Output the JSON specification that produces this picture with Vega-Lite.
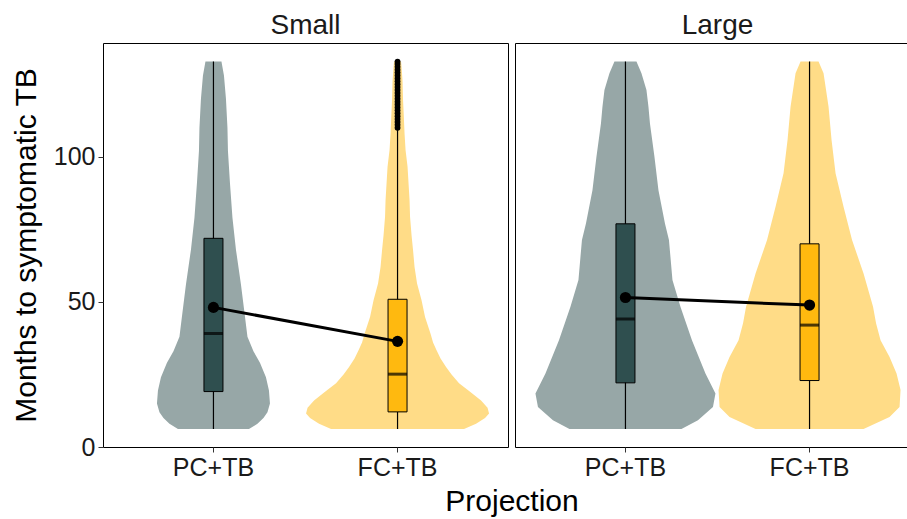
{
  "$schema": "https://vega.github.io/schema/vega-lite/v6.json",
  "padding": {"left": 10, "top": 11, "right": 0, "bottom": 0},
  "bounds": "flush",
  "data": {"values": [
    {"k":"v","panel":"Small","g":"PC+TB","m":6.2,"d":71},
    {"k":"v","panel":"Small","g":"PC+TB","m":8,"d":88},
    {"k":"v","panel":"Small","g":"PC+TB","m":10,"d":100},
    {"k":"v","panel":"Small","g":"PC+TB","m":12,"d":108},
    {"k":"v","panel":"Small","g":"PC+TB","m":15,"d":113},
    {"k":"v","panel":"Small","g":"PC+TB","m":19.5,"d":111},
    {"k":"v","panel":"Small","g":"PC+TB","m":24,"d":105},
    {"k":"v","panel":"Small","g":"PC+TB","m":29,"d":93},
    {"k":"v","panel":"Small","g":"PC+TB","m":33,"d":80},
    {"k":"v","panel":"Small","g":"PC+TB","m":38,"d":68},
    {"k":"v","panel":"Small","g":"PC+TB","m":45,"d":63},
    {"k":"v","panel":"Small","g":"PC+TB","m":56,"d":55},
    {"k":"v","panel":"Small","g":"PC+TB","m":68,"d":45},
    {"k":"v","panel":"Small","g":"PC+TB","m":79,"d":38},
    {"k":"v","panel":"Small","g":"PC+TB","m":91,"d":33},
    {"k":"v","panel":"Small","g":"PC+TB","m":102,"d":29},
    {"k":"v","panel":"Small","g":"PC+TB","m":110,"d":28},
    {"k":"v","panel":"Small","g":"PC+TB","m":120,"d":25},
    {"k":"v","panel":"Small","g":"PC+TB","m":128,"d":21},
    {"k":"v","panel":"Small","g":"PC+TB","m":132.8,"d":16},

    {"k":"v","panel":"Small","g":"FC+TB","m":6.2,"d":133},
    {"k":"v","panel":"Small","g":"FC+TB","m":8,"d":157},
    {"k":"v","panel":"Small","g":"FC+TB","m":10,"d":175},
    {"k":"v","panel":"Small","g":"FC+TB","m":11.5,"d":183},
    {"k":"v","panel":"Small","g":"FC+TB","m":13.5,"d":180},
    {"k":"v","panel":"Small","g":"FC+TB","m":16,"d":167},
    {"k":"v","panel":"Small","g":"FC+TB","m":19,"d":145},
    {"k":"v","panel":"Small","g":"FC+TB","m":22,"d":123},
    {"k":"v","panel":"Small","g":"FC+TB","m":25,"d":108},
    {"k":"v","panel":"Small","g":"FC+TB","m":27.6,"d":97},
    {"k":"v","panel":"Small","g":"FC+TB","m":30.5,"d":86},
    {"k":"v","panel":"Small","g":"FC+TB","m":33.3,"d":78},
    {"k":"v","panel":"Small","g":"FC+TB","m":36,"d":71},
    {"k":"v","panel":"Small","g":"FC+TB","m":39,"d":66},
    {"k":"v","panel":"Small","g":"FC+TB","m":44.8,"d":55},
    {"k":"v","panel":"Small","g":"FC+TB","m":50.6,"d":48},
    {"k":"v","panel":"Small","g":"FC+TB","m":56.3,"d":39},
    {"k":"v","panel":"Small","g":"FC+TB","m":62,"d":34},
    {"k":"v","panel":"Small","g":"FC+TB","m":67.8,"d":31},
    {"k":"v","panel":"Small","g":"FC+TB","m":73,"d":28},
    {"k":"v","panel":"Small","g":"FC+TB","m":79.3,"d":25},
    {"k":"v","panel":"Small","g":"FC+TB","m":85,"d":24},
    {"k":"v","panel":"Small","g":"FC+TB","m":90.8,"d":22},
    {"k":"v","panel":"Small","g":"FC+TB","m":96.6,"d":20},
    {"k":"v","panel":"Small","g":"FC+TB","m":102.3,"d":16},
    {"k":"v","panel":"Small","g":"FC+TB","m":108,"d":14},
    {"k":"v","panel":"Small","g":"FC+TB","m":114,"d":12.5},
    {"k":"v","panel":"Small","g":"FC+TB","m":119.6,"d":11},
    {"k":"v","panel":"Small","g":"FC+TB","m":126,"d":10},
    {"k":"v","panel":"Small","g":"FC+TB","m":131,"d":8},
    {"k":"v","panel":"Small","g":"FC+TB","m":132.8,"d":7},

    {"k":"v","panel":"Large","g":"PC+TB","m":6.2,"d":112},
    {"k":"v","panel":"Large","g":"PC+TB","m":9.2,"d":145},
    {"k":"v","panel":"Large","g":"PC+TB","m":13.8,"d":175},
    {"k":"v","panel":"Large","g":"PC+TB","m":18.4,"d":180},
    {"k":"v","panel":"Large","g":"PC+TB","m":25.3,"d":160},
    {"k":"v","panel":"Large","g":"PC+TB","m":36.8,"d":133},
    {"k":"v","panel":"Large","g":"PC+TB","m":48.3,"d":110},
    {"k":"v","panel":"Large","g":"PC+TB","m":57.5,"d":94},
    {"k":"v","panel":"Large","g":"PC+TB","m":65.5,"d":90},
    {"k":"v","panel":"Large","g":"PC+TB","m":71.3,"d":87},
    {"k":"v","panel":"Large","g":"PC+TB","m":77,"d":79},
    {"k":"v","panel":"Large","g":"PC+TB","m":88.5,"d":66},
    {"k":"v","panel":"Large","g":"PC+TB","m":100,"d":58},
    {"k":"v","panel":"Large","g":"PC+TB","m":111.5,"d":49},
    {"k":"v","panel":"Large","g":"PC+TB","m":117.2,"d":46},
    {"k":"v","panel":"Large","g":"PC+TB","m":123,"d":42},
    {"k":"v","panel":"Large","g":"PC+TB","m":128.8,"d":32},
    {"k":"v","panel":"Large","g":"PC+TB","m":132.8,"d":22},

    {"k":"v","panel":"Large","g":"FC+TB","m":6.2,"d":108},
    {"k":"v","panel":"Large","g":"FC+TB","m":10.3,"d":160},
    {"k":"v","panel":"Large","g":"FC+TB","m":13.8,"d":180},
    {"k":"v","panel":"Large","g":"FC+TB","m":19.6,"d":182},
    {"k":"v","panel":"Large","g":"FC+TB","m":25.3,"d":174},
    {"k":"v","panel":"Large","g":"FC+TB","m":31,"d":160},
    {"k":"v","panel":"Large","g":"FC+TB","m":36.8,"d":142},
    {"k":"v","panel":"Large","g":"FC+TB","m":42.6,"d":133},
    {"k":"v","panel":"Large","g":"FC+TB","m":48.3,"d":127},
    {"k":"v","panel":"Large","g":"FC+TB","m":59.8,"d":108},
    {"k":"v","panel":"Large","g":"FC+TB","m":71.3,"d":85},
    {"k":"v","panel":"Large","g":"FC+TB","m":82.8,"d":68},
    {"k":"v","panel":"Large","g":"FC+TB","m":94.3,"d":52},
    {"k":"v","panel":"Large","g":"FC+TB","m":105.8,"d":44},
    {"k":"v","panel":"Large","g":"FC+TB","m":117.2,"d":38},
    {"k":"v","panel":"Large","g":"FC+TB","m":128.8,"d":28},
    {"k":"v","panel":"Large","g":"FC+TB","m":132.8,"d":18},

    {"k":"b","panel":"Small","g":"PC+TB","min":6.2,"q1":19.1,"med":39.1,"q3":71.9,"max":132.8,"mean":48.1},
    {"k":"b","panel":"Small","g":"FC+TB","min":6.2,"q1":12.1,"med":25.1,"q3":50.9,"max":109.5,"mean":36.4},
    {"k":"b","panel":"Large","g":"PC+TB","min":6.2,"q1":22.1,"med":44.1,"q3":76.9,"max":132.8,"mean":51.5},
    {"k":"b","panel":"Large","g":"FC+TB","min":6.2,"q1":22.9,"med":42,"q3":70,"max":132.8,"mean":48.9},

    {"k":"o","panel":"Small","g":"FC+TB","m":110},
    {"k":"o","panel":"Small","g":"FC+TB","m":111},
    {"k":"o","panel":"Small","g":"FC+TB","m":112},
    {"k":"o","panel":"Small","g":"FC+TB","m":113},
    {"k":"o","panel":"Small","g":"FC+TB","m":114},
    {"k":"o","panel":"Small","g":"FC+TB","m":115},
    {"k":"o","panel":"Small","g":"FC+TB","m":116},
    {"k":"o","panel":"Small","g":"FC+TB","m":117},
    {"k":"o","panel":"Small","g":"FC+TB","m":118},
    {"k":"o","panel":"Small","g":"FC+TB","m":119},
    {"k":"o","panel":"Small","g":"FC+TB","m":120},
    {"k":"o","panel":"Small","g":"FC+TB","m":121},
    {"k":"o","panel":"Small","g":"FC+TB","m":122},
    {"k":"o","panel":"Small","g":"FC+TB","m":123},
    {"k":"o","panel":"Small","g":"FC+TB","m":124},
    {"k":"o","panel":"Small","g":"FC+TB","m":125},
    {"k":"o","panel":"Small","g":"FC+TB","m":126},
    {"k":"o","panel":"Small","g":"FC+TB","m":127},
    {"k":"o","panel":"Small","g":"FC+TB","m":128},
    {"k":"o","panel":"Small","g":"FC+TB","m":129},
    {"k":"o","panel":"Small","g":"FC+TB","m":130},
    {"k":"o","panel":"Small","g":"FC+TB","m":131},
    {"k":"o","panel":"Small","g":"FC+TB","m":132},
    {"k":"o","panel":"Small","g":"FC+TB","m":132.8}
  ]},
  "spacing": 7,
  "hconcat": [
    {
      "title": {"text": "Small", "frame": "group", "anchor": "middle", "fontSize": 28, "fontWeight": "normal", "color": "#1a1a1a", "font": "Liberation Sans", "offset": 3},
      "width": 405,
      "height": 404,
      "layer": [
        {
          "transform": [{"filter": "datum.k == 'v' && datum.panel == 'Small' && datum.g == 'PC+TB'"}],
          "mark": {"type": "area", "orient": "horizontal", "color": "#97A7A7"},
          "encoding": {
            "y": {"field": "m", "type": "quantitative", "scale": {"domain": [0, 139.2], "nice": false, "zero": false}, "axis": {"values": [0, 50, 100]}, "title": "Months to symptomatic TB"},
            "x": {"field": "d", "type": "quantitative", "stack": "center", "scale": {"domain": [-53.95, 351.05], "nice": false, "zero": false}, "axis": null}
          }
        },
        {
          "transform": [{"filter": "datum.k == 'v' && datum.panel == 'Small' && datum.g == 'FC+TB'"}],
          "mark": {"type": "area", "orient": "horizontal", "color": "#FFDC87"},
          "encoding": {
            "y": {"field": "m", "type": "quantitative", "scale": {"domain": [0, 139.2], "nice": false, "zero": false}, "axis": {"values": [0, 50, 100]}, "title": "Months to symptomatic TB"},
            "x": {"field": "d", "type": "quantitative", "stack": "center", "scale": {"domain": [-203.05, 201.95], "nice": false, "zero": false}, "axis": null}
          }
        },
        {
          "transform": [{"filter": "datum.k == 'b' && datum.panel == 'Small'"}],
          "encoding": {
            "x": {"field": "g", "type": "nominal", "sort": ["PC+TB", "FC+TB"], "scale": {"domain": ["PC+TB", "FC+TB"], "paddingInner": 0, "paddingOuter": 0.1}, "axis": {"title": "Projection", "titleX": 408.5}}
          },
          "layer": [
            {
              "mark": {"type": "rule", "color": "black", "strokeWidth": 1.2},
              "encoding": {
                "y": {"field": "min", "type": "quantitative", "scale": {"domain": [0, 139.2], "nice": false, "zero": false}, "axis": {"values": [0, 50, 100]}, "title": "Months to symptomatic TB"},
                "y2": {"field": "max"}
              }
            },
            {
              "mark": {"type": "bar", "width": 19, "stroke": "black", "strokeWidth": 1},
              "encoding": {
                "y": {"field": "q1", "type": "quantitative", "scale": {"domain": [0, 139.2], "nice": false, "zero": false}, "axis": {"values": [0, 50, 100]}, "title": "Months to symptomatic TB"},
                "y2": {"field": "q3"},
                "color": {"field": "g", "type": "nominal", "scale": {"domain": ["PC+TB", "FC+TB"], "range": ["#2F4F4F", "#FFB90F"]}, "legend": null}
              }
            },
            {
              "mark": {"type": "tick", "thickness": 3, "color": "black", "orient": "horizontal"},
              "encoding": {
                "y": {"field": "med", "type": "quantitative", "scale": {"domain": [0, 139.2], "nice": false, "zero": false}, "axis": {"values": [0, 50, 100]}, "title": "Months to symptomatic TB"},
                "size": {"value": 19}
              }
            },
            {
              "mark": {"type": "line", "color": "black", "strokeWidth": 3},
              "encoding": {
                "y": {"field": "mean", "type": "quantitative", "scale": {"domain": [0, 139.2], "nice": false, "zero": false}, "axis": {"values": [0, 50, 100]}, "title": "Months to symptomatic TB"}
              }
            },
            {
              "mark": {"type": "point", "filled": true, "color": "black", "opacity": 1, "size": 125},
              "encoding": {
                "y": {"field": "mean", "type": "quantitative", "scale": {"domain": [0, 139.2], "nice": false, "zero": false}, "axis": {"values": [0, 50, 100]}, "title": "Months to symptomatic TB"}
              }
            }
          ]
        },
        {
          "transform": [{"filter": "datum.k == 'o' && datum.panel == 'Small'"}],
          "mark": {"type": "point", "filled": true, "color": "black", "opacity": 1, "size": 34},
          "encoding": {
            "x": {"field": "g", "type": "nominal", "scale": {"type": "band", "domain": ["PC+TB", "FC+TB"], "paddingInner": 0, "paddingOuter": 0.1}, "axis": null},
            "y": {"field": "m", "type": "quantitative", "scale": {"domain": [0, 139.2], "nice": false, "zero": false}, "axis": {"values": [0, 50, 100]}, "title": "Months to symptomatic TB"}
          }
        }
      ],
      "resolve": {"scale": {"x": "independent"}}
    },
    {
      "title": {"text": "Large", "frame": "group", "anchor": "middle", "fontSize": 28, "fontWeight": "normal", "color": "#1a1a1a", "font": "Liberation Sans", "offset": 3},
      "width": 405,
      "height": 404,
      "layer": [
        {
          "transform": [{"filter": "datum.k == 'v' && datum.panel == 'Large' && datum.g == 'PC+TB'"}],
          "mark": {"type": "area", "orient": "horizontal", "color": "#97A7A7"},
          "encoding": {
            "y": {"field": "m", "type": "quantitative", "scale": {"domain": [0, 139.2], "nice": false, "zero": false}, "axis": null},
            "x": {"field": "d", "type": "quantitative", "stack": "center", "scale": {"domain": [-20.45, 384.55], "nice": false, "zero": false}, "axis": null}
          }
        },
        {
          "transform": [{"filter": "datum.k == 'v' && datum.panel == 'Large' && datum.g == 'FC+TB'"}],
          "mark": {"type": "area", "orient": "horizontal", "color": "#FFDC87"},
          "encoding": {
            "y": {"field": "m", "type": "quantitative", "scale": {"domain": [0, 139.2], "nice": false, "zero": false}, "axis": null},
            "x": {"field": "d", "type": "quantitative", "stack": "center", "scale": {"domain": [-203.55, 201.45], "nice": false, "zero": false}, "axis": null}
          }
        },
        {
          "transform": [{"filter": "datum.k == 'b' && datum.panel == 'Large'"}],
          "encoding": {
            "x": {"field": "g", "type": "nominal", "sort": ["PC+TB", "FC+TB"], "scale": {"domain": ["PC+TB", "FC+TB"], "paddingInner": 0, "paddingOuter": 0.1}, "axis": {"title": null}}
          },
          "layer": [
            {
              "mark": {"type": "rule", "color": "black", "strokeWidth": 1.2},
              "encoding": {
                "y": {"field": "min", "type": "quantitative", "scale": {"domain": [0, 139.2], "nice": false, "zero": false}, "axis": null},
                "y2": {"field": "max"}
              }
            },
            {
              "mark": {"type": "bar", "width": 19, "stroke": "black", "strokeWidth": 1},
              "encoding": {
                "y": {"field": "q1", "type": "quantitative", "scale": {"domain": [0, 139.2], "nice": false, "zero": false}, "axis": null},
                "y2": {"field": "q3"},
                "color": {"field": "g", "type": "nominal", "scale": {"domain": ["PC+TB", "FC+TB"], "range": ["#2F4F4F", "#FFB90F"]}, "legend": null}
              }
            },
            {
              "mark": {"type": "tick", "thickness": 3, "color": "black", "orient": "horizontal"},
              "encoding": {
                "y": {"field": "med", "type": "quantitative", "scale": {"domain": [0, 139.2], "nice": false, "zero": false}, "axis": null},
                "size": {"value": 19}
              }
            },
            {
              "mark": {"type": "line", "color": "black", "strokeWidth": 3},
              "encoding": {
                "y": {"field": "mean", "type": "quantitative", "scale": {"domain": [0, 139.2], "nice": false, "zero": false}, "axis": null}
              }
            },
            {
              "mark": {"type": "point", "filled": true, "color": "black", "opacity": 1, "size": 125},
              "encoding": {
                "y": {"field": "mean", "type": "quantitative", "scale": {"domain": [0, 139.2], "nice": false, "zero": false}, "axis": null}
              }
            }
          ]
        }
      ],
      "resolve": {"scale": {"x": "independent"}}
    }
  ],
  "config": {
    "font": "Liberation Sans",
    "view": {"stroke": "black", "strokeWidth": 1},
    "axis": {
      "grid": false, "domain": false,
      "labelFontSize": 25, "labelColor": "#1a1a1a", "labelFont": "Liberation Sans",
      "titleFontSize": 30, "titleFontWeight": "normal", "titleColor": "black", "titleFont": "Liberation Sans",
      "tickSize": 5, "tickColor": "#333333", "tickWidth": 1
    },
    "axisY": {"titlePadding": 12, "labelPadding": 3},
    "axisX": {"titlePadding": 6, "labelPadding": 3, "labelAngle": 0}
  }
}
